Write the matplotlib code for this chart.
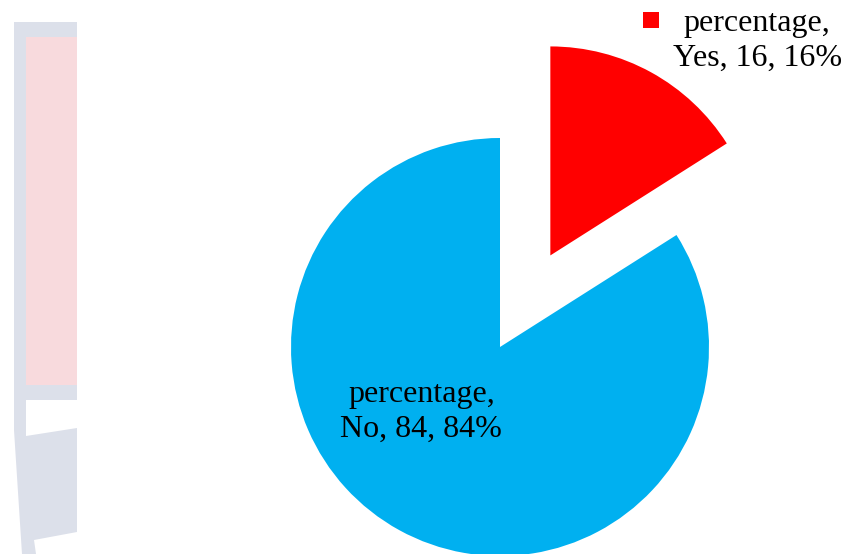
import matplotlib.pyplot as plt
from matplotlib.patches import Rectangle, Polygon

plt.rcParams['font.family'] = ['Liberation Serif', 'DejaVu Serif']

# datos
labels = ['Yes', 'No']
values = [16, 84]
colors = ['#FF0000', '#00B0F0']
series_name = 'percentage'

fig = plt.figure(figsize=(8.41, 5.54), dpi=100)

# fondo: imagen desvanecida a la izquierda
bg = fig.add_axes([0, 0, 1, 1], zorder=0)
bg.set_xlim(0, 841)
bg.set_ylim(554, 0)
bg.axis('off')
bg.add_patch(Polygon([(14, 22), (77, 22), (77, 554), (22, 554), (14, 430)],
                     closed=True, color='#DCE0EA', lw=0))
bg.add_patch(Rectangle((26, 37), 51, 348, color='#F8DADD', lw=0))
bg.add_patch(Polygon([(26, 400), (77, 400), (77, 428), (26, 436)],
                     closed=True, color='white', lw=0))
bg.add_patch(Polygon([(34, 540), (77, 532), (77, 554), (36, 554)],
                     closed=True, color='white', lw=0))

# pastel
ax = fig.add_axes([0, 0, 1, 1], zorder=1)
ax.set_facecolor('none')
wedges, _ = ax.pie(values, colors=colors, startangle=90, counterclock=False,
                   explode=[0.5, 0], radius=1,
                   wedgeprops=dict(linewidth=0))
ax.set_aspect('auto')
ax.set_xlim(-500 / 209, 341 / 209)
ax.set_ylim(-207 / 209, 347 / 209)
ax.axis('off')

# etiquetas
ax.text(-0.376, -0.31, f'{series_name},\n{labels[1]}, {values[1]}, {values[1]}%',
        ha='center', va='center', fontsize=23, linespacing=1.27)
ax.text(1.23, 1.465, f'{series_name},\n{labels[0]}, {values[0]}, {values[0]}%',
        ha='center', va='center', fontsize=23, linespacing=1.27)
ax.scatter([0.722], [1.565], marker='s', s=130, color=colors[0], lw=0)

fig.savefig('out.png', dpi=100)
